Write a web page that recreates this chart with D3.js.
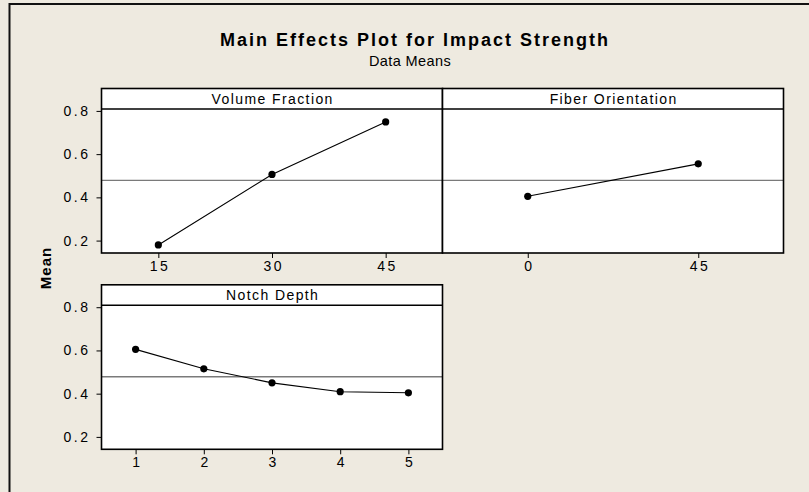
<!DOCTYPE html>
<html>
<head>
<meta charset="utf-8">
<script src="https://cdn.jsdelivr.net/npm/d3@7"></script>
<style>
  body { margin: 0; background: #eeeae0; }
  svg { display: block; }
  text { font-family: "Liberation Sans", Arial, sans-serif; fill: #000; }
</style>
</head>
<body>
<svg id="chart" width="809" height="492"></svg>
<script>
// data
const factors = ["Volume Fraction", "Fiber Orientation", "Notch Depth"];
const volumeLevels = ["15", "30", "45"];
const volumeMeans = [0.180, 0.506, 0.749];
const fiberLevels = ["0", "45"];
const fiberMeans = [0.405, 0.555];
const notchLevels = ["1", "2", "3", "4", "5"];
const notchMeans = [0.605, 0.515, 0.450, 0.409, 0.404];
const yTicks = [0.2, 0.4, 0.6, 0.8];

const grandMean = d3.mean(volumeMeans);

const width = 809, height = 492;
const svg = d3.select("#chart");

svg.append("rect").attr("width", width).attr("height", height).attr("fill", "#eeeae0");
// frame (left + top only visible)
svg.append("path")
  .attr("d", `M9.5,${height} V4 H${width}`)
  .attr("fill", "none").attr("stroke", "#111").attr("stroke-width", 2);

svg.append("text")
  .attr("x", 415).attr("y", 46)
  .attr("text-anchor", "middle")
  .attr("font-size", 18).attr("font-weight", "bold")
  .attr("letter-spacing", 2)
  .text("Main Effects Plot for Impact Strength");

svg.append("text")
  .attr("x", 410).attr("y", 66)
  .attr("text-anchor", "middle")
  .attr("font-size", 14.5).attr("letter-spacing", 0.4)
  .text("Data Means");

svg.append("text")
  .attr("transform", "translate(51,268) rotate(-90)")
  .attr("text-anchor", "middle")
  .attr("font-size", 15).attr("font-weight", "bold")
  .attr("letter-spacing", 1)
  .text("Mean");

const panelW = 341, panelH = 164.5, stripH = 20.4;
const panels = [
  { name: factors[0], levels: volumeLevels, means: volumeMeans, x: 101.5, y: 88.5, yAxis: true },
  { name: factors[1], levels: fiberLevels, means: fiberMeans, x: 442.5, y: 88.5, yAxis: false },
  { name: factors[2], levels: notchLevels, means: notchMeans, x: 101.5, y: 284.8, yAxis: true }
];

const y = d3.scaleLinear().domain([0.1426, 0.8093]).range([panelH, stripH]);
const tickLS = 2.5;

panels.forEach(p => {
  const g = svg.append("g").attr("transform", `translate(${p.x},${p.y})`);
  const x = d3.scalePoint().domain(p.levels).range([0, panelW]).padding(0.5);

  g.append("rect").attr("width", panelW).attr("height", panelH).attr("fill", "#fff");

  // grand mean reference line
  g.append("line")
    .attr("x1", 0).attr("x2", panelW)
    .attr("y1", y(grandMean)).attr("y2", y(grandMean))
    .attr("stroke", "#7a7a7a").attr("stroke-width", 1.3);

  const pts = p.levels.map((l, i) => [x(l), y(p.means[i])]);
  g.append("path")
    .attr("d", d3.line()(pts))
    .attr("fill", "none").attr("stroke", "#000").attr("stroke-width", 1.1);
  g.selectAll("circle").data(pts).join("circle")
    .attr("cx", d => d[0]).attr("cy", d => d[1]).attr("r", 3.6).attr("fill", "#000");

  // strip
  g.append("line").attr("x1", 0).attr("x2", panelW).attr("y1", stripH).attr("y2", stripH)
    .attr("stroke", "#000").attr("stroke-width", 1.5);
  g.append("text")
    .attr("x", panelW / 2 + 0.7).attr("y", stripH / 2 + 5)
    .attr("text-anchor", "middle").attr("font-size", 14).attr("letter-spacing", 1.4)
    .text(p.name);

  g.append("rect").attr("width", panelW).attr("height", panelH)
    .attr("fill", "none").attr("stroke", "#000").attr("stroke-width", 1.6);

  const xAxis = g.append("g").attr("transform", `translate(0,${panelH})`)
    .call(d3.axisBottom(x).tickSize(5).tickPadding(3));
  xAxis.select(".domain").remove();
  xAxis.selectAll("line").attr("stroke", "#000");
  xAxis.selectAll("text").attr("font-size", 14).attr("letter-spacing", tickLS)
    .attr("font-family", "Liberation Sans, Arial, sans-serif").attr("fill", "#000")
    .attr("dx", tickLS / 2);

  if (p.yAxis) {
    const yAxis = g.append("g")
      .call(d3.axisLeft(y).tickValues(yTicks).tickFormat(d3.format(".1f")).tickSize(5).tickPadding(6));
    yAxis.select(".domain").remove();
    yAxis.selectAll("line").attr("stroke", "#000");
    yAxis.selectAll("text").attr("font-size", 14).attr("letter-spacing", tickLS)
      .attr("font-family", "Liberation Sans, Arial, sans-serif").attr("fill", "#000");
  }
});
</script>
</body>
</html>
